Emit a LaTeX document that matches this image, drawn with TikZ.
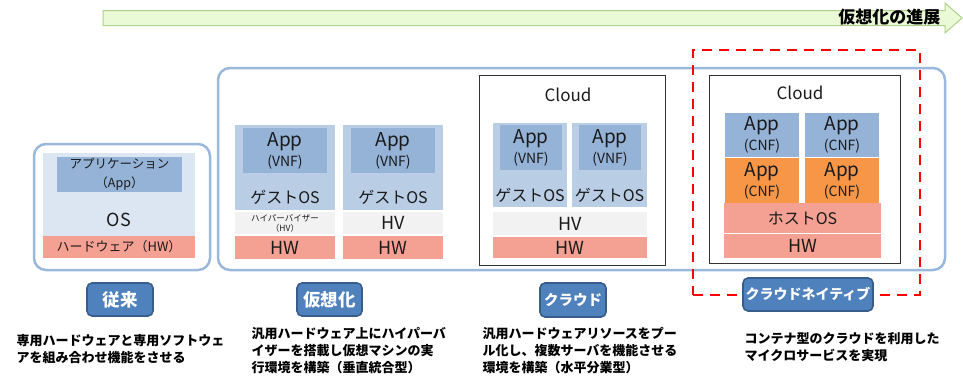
\documentclass[tikz,border=0pt]{standalone}
\usepackage{fontspec}
\setmainfont{Noto Sans CJK JP}
\usepackage{tikz}

\definecolor{appblue}{HTML}{95B3D7}
\definecolor{guestblue}{HTML}{B9CDE5}
\definecolor{oldbg}{HTML}{DCE6F2}
\definecolor{hvgray}{HTML}{F2F2F2}
\definecolor{hwred}{HTML}{F4A193}
\definecolor{cnforange}{HTML}{F79646}
\definecolor{frameblue}{HTML}{9AB8DB}
\definecolor{btnblue}{HTML}{4F81BD}
\definecolor{btnedge}{HTML}{385D8A}
\definecolor{arrowfill}{HTML}{EBFAD6}
\definecolor{arrowedge}{HTML}{ADD08A}
\definecolor{txt}{HTML}{1A1A1A}

\begin{document}
\begin{tikzpicture}[x=1pt,y=-1pt,
  blk/.style={rectangle,inner sep=0pt,align=center,text=txt},
  bigframe/.style={draw=frameblue,line width=2.5pt,rounded corners=12pt,inner sep=0pt},
  cloudbox/.style={draw=black!80,line width=0.9pt,inner sep=0pt},
  btn/.style={rectangle,rounded corners=5pt,fill=btnblue,draw=btnedge,line width=1.6pt,
    text=white,inner sep=0pt,font=\bfseries\fontsize{17.5}{19}\selectfont},
  desc/.style={anchor=west,align=left,font=\bfseries\fontsize{13}{17}\selectfont},
  apptxt/.style={font=\fontsize{19}{20}\selectfont},
  big/.style={font=\fontsize{18}{20}\selectfont}
]
\useasboundingbox (0,0) rectangle (963,383);

% progress arrow
\draw[fill=arrowfill,draw=arrowedge,line width=1pt]
  (103,10.5) -- (945,10.5) -- (945,3) -- (962,18) -- (945,33) -- (945,25.5) -- (103,25.5) -- cycle;
\node (prog) [anchor=east,font=\bfseries\fontsize{17}{18}\selectfont] at(944,17) {仮想化の進展};

% frames
\node (oldframe) [bigframe,minimum width=176,minimum height=126] at(122,207) {};
\node (newframe) [bigframe,minimum width=727,minimum height=202] at(581.5,169) {};

% legacy
\node (oldos) [blk,fill=oldbg,minimum width=152,minimum height=105] at(119,205.5) {};
\node (oldapp) [blk,fill=appblue,minimum width=125,minimum height=35,
  font=\fontsize{12.5}{19}\selectfont] at(119.5,174.5) {アプリケーション\\（App）};
\node (ostxt) [blk,big] at(119,220) {OS};
\node (oldhw) [blk,fill=hwred,minimum width=152,minimum height=22,
  font=\fontsize{13}{14}\selectfont] at(119,247) {ハードウェア（HW）};

% virtualization
\node (vm1) [blk,fill=guestblue,minimum width=100,minimum height=85] at(285,167.5) {};
\node (vm1app) [blk,apptxt,fill=appblue,minimum width=84,minimum height=45] at(285,150.5)
  {App\\{\fontsize{14}{15}\selectfont(VNF)}};
\node (vm1os) [blk,font=\fontsize{16}{17}\selectfont] at(285,197) {ゲストOS};
\node (vm1hv) [blk,fill=hvgray,minimum width=100,minimum height=22,
  font=\fontsize{8.5}{10}\selectfont] at(285,223) {ハイパーバイザー\\（HV）};
\node (vm1hw) [blk,big,fill=hwred,minimum width=100,minimum height=23] at(285,247.5) {HW};

\node (vm2) [blk,fill=guestblue,minimum width=100,minimum height=85] at(393,167.5) {};
\node (vm2app) [blk,apptxt,fill=appblue,minimum width=84,minimum height=45] at(393,150.5)
  {App\\{\fontsize{14}{15}\selectfont(VNF)}};
\node (vm2os) [blk,font=\fontsize{16}{17}\selectfont] at(393,197) {ゲストOS};
\node (vm2hv) [blk,big,fill=hvgray,minimum width=100,minimum height=22] at(393,223) {HV};
\node (vm2hw) [blk,big,fill=hwred,minimum width=100,minimum height=23] at(393,247.5) {HW};

% cloud
\node (cloud) [cloudbox,minimum width=186,minimum height=190] at(572,170) {};
\node (cloudtxt) [blk,font=\fontsize{17}{18}\selectfont] at(568,95) {Cloud};
\node (cvm1) [blk,fill=guestblue,minimum width=74,minimum height=84] at(530,165) {};
\node (cvm1app) [blk,apptxt,fill=appblue,minimum width=62,minimum height=45] at(531,147.5)
  {App\\{\fontsize{14}{15}\selectfont(VNF)}};
\node (cvm1os) [blk,font=\fontsize{16}{17}\selectfont] at(530,195) {ゲストOS};
\node (cvm2) [blk,fill=guestblue,minimum width=75,minimum height=84] at(609.5,165) {};
\node (cvm2app) [blk,apptxt,fill=appblue,minimum width=62,minimum height=45] at(610,147.5)
  {App\\{\fontsize{14}{15}\selectfont(VNF)}};
\node (cvm2os) [blk,font=\fontsize{16}{17}\selectfont] at(609.5,195) {ゲストOS};
\node (chv) [blk,big,fill=hvgray,minimum width=154,minimum height=23] at(570,223.5) {HV};
\node (chw) [blk,big,fill=hwred,minimum width=154,minimum height=21] at(570,247.5) {HW};

% cloud native
\node (cn) [cloudbox,minimum width=191,minimum height=188] at(804.5,169) {};
\node (cntxt) [blk,font=\fontsize{17}{18}\selectfont] at(800,93) {Cloud};
\node (cnf1) [blk,apptxt,fill=appblue,minimum width=74,minimum height=44] at(762,135)
  {App\\{\fontsize{14}{15}\selectfont(CNF)}};
\node (cnf2) [blk,apptxt,fill=appblue,minimum width=74,minimum height=44] at(842,135)
  {App\\{\fontsize{14}{15}\selectfont(CNF)}};
\node (cnf3) [blk,apptxt,fill=cnforange,minimum width=74,minimum height=45] at(762,180.5)
  {App\\{\fontsize{14}{15}\selectfont(CNF)}};
\node (cnf4) [blk,apptxt,fill=cnforange,minimum width=74,minimum height=45] at(842,180.5)
  {App\\{\fontsize{14}{15}\selectfont(CNF)}};
\node (host) [blk,font=\fontsize{16}{17}\selectfont,fill=hwred,minimum width=157,minimum height=30]
  at(802.5,218) {ホストOS};
\node (cnhw) [blk,big,fill=hwred,minimum width=157,minimum height=24] at(802.5,246) {HW};

\node (cnframe) [draw=red,line width=2.5pt,dash pattern=on 10pt off 7pt,inner sep=0pt,
  minimum width=227,minimum height=245] at(806.5,172.5) {};

% labels
\node (b1) [btn,minimum width=66,minimum height=33] at(120,299.5) {従来};
\node (b2) [btn,minimum width=65,minimum height=33] at(329.5,299.5) {仮想化};
\node (b3) [btn,minimum width=66,minimum height=34,font=\bfseries\fontsize{14.5}{16}\selectfont]
  at(573,300) {クラウド};
\node (b4) [btn,minimum width=130,minimum height=33,font=\bfseries\fontsize{14}{16}\selectfont]
  at(808,294.5) {クラウドネイティブ};

\node (d1) [desc] at(13,349) {専用ハードウェアと専用ソフトウェ\\アを組み合わせ機能をさせる};
\node (d2) [desc] at(248,351) {汎用ハードウェア上にハイパーバ\\イザーを搭載し仮想マシンの実\\行環境を構築（垂直統合型）};
\node (d3) [desc] at(479,351) {汎用ハードウェアリソースをプー\\ル化し、複数サーバを機能させる\\環境を構築（水平分業型）};
\node (d4) [desc] at(741,347) {コンテナ型のクラウドを利用した\\マイクロサービスを実現};
\end{tikzpicture}
\end{document}
